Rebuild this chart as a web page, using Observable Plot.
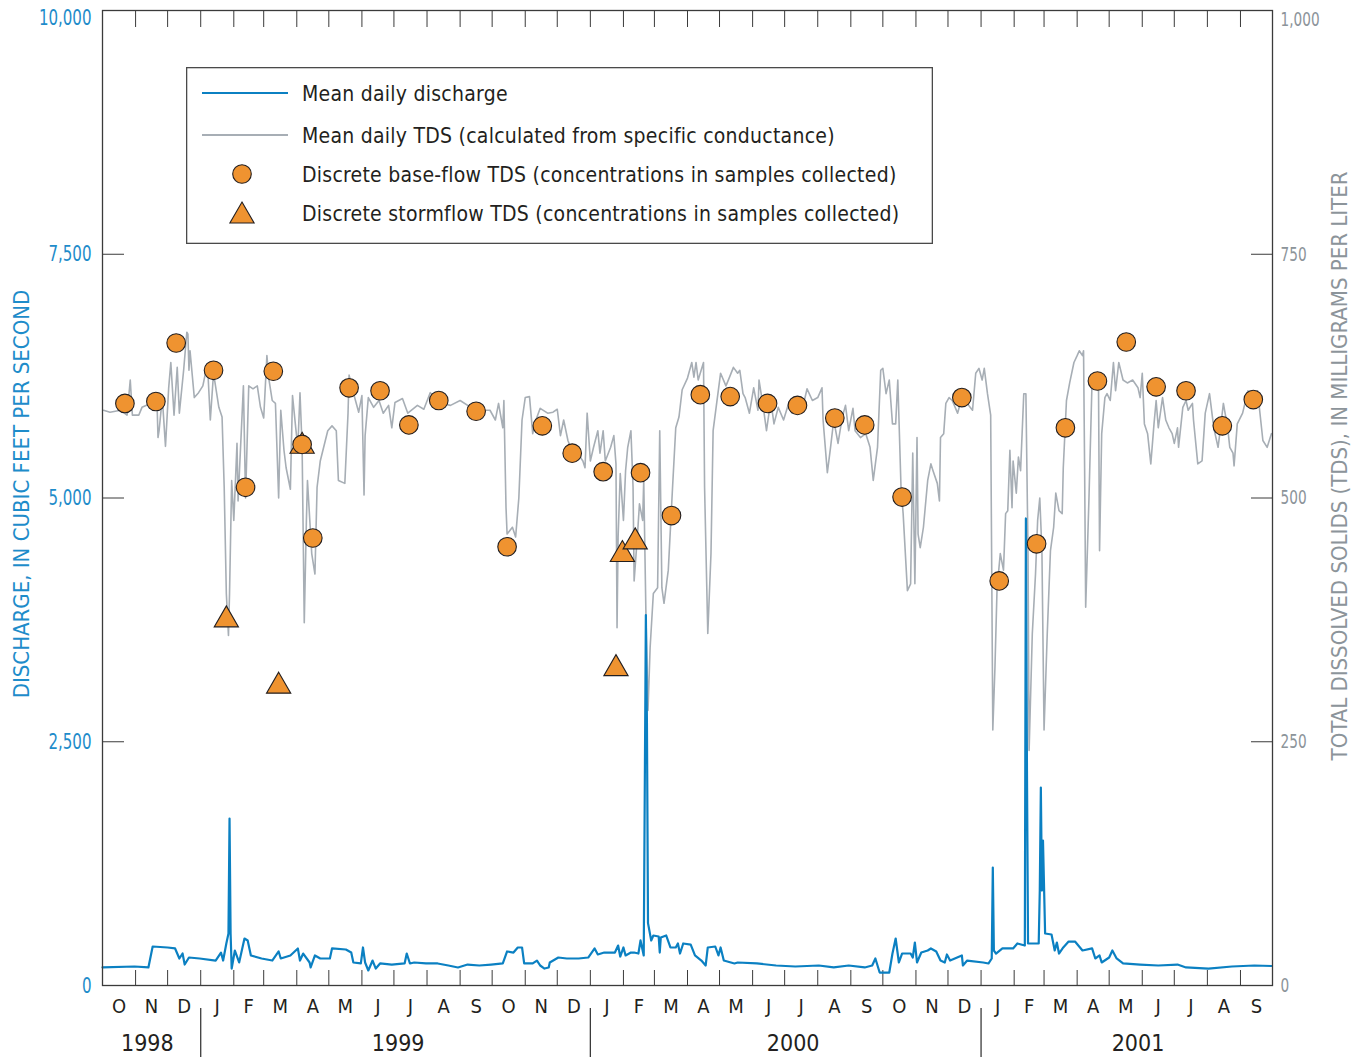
<!DOCTYPE html>
<html>
<head>
<meta charset="utf-8">
<title>Discharge and total dissolved solids, water years 1999–2001</title>
<script src="https://cdn.jsdelivr.net/npm/d3@7"></script>
<script src="https://cdn.jsdelivr.net/npm/@observablehq/plot@0.6"></script>
<style>
  html, body { margin: 0; padding: 0; background: #fff; }
  #figure { position: relative; width: 1364px; height: 1059px; overflow: hidden; }
  #figure svg { display: block; }
  #legend { position: absolute; left: 186px; top: 67px; }
</style>
</head>
<body>
<div id="figure"></div>
<script>
// ---- Record period and axis labels -------------------------------------
const recordStart = new Date(Date.UTC(1998, 9, 1));   // 1 Oct 1998, day 0 of the record
const recordEnd = new Date(Date.UTC(2001, 9, 1));     // 1 Oct 2001
const monthLetters = ["O", "N", "D", "J", "F", "M", "A", "M", "J", "J", "A", "S"];
const yearLabels = [
  {year: "1998", at: "1998-11-12"},
  {year: "1999", at: "1999-07-05"},
  {year: "2000", at: "2000-07-09"},
  {year: "2001", at: "2001-05-28"}
];
const yearBreaks = ["1999-01-01", "2000-01-01", "2001-01-01"];
const dischargeTicks = [0, 2500, 5000, 7500, 10000];  // ft3/s
const tdsTicks = [0, 250, 500, 750, 1000];            // mg/L

// ---- Mean daily discharge, ft3/s: [day of record, value] ---------------
const dailyDischarge = [
  [0,185],[30,195],[43,185],[47,400],[61,390],[68,380],[72,277],[75,328],[77,215],[81,287],
  [91,277],[106,256],[111,338],[113,256],[116,430],[118,533],[119,1713],[120,533],[121,174],[124,359],
  [128,236],[133,482],[136,462],[139,308],[149,277],[159,256],[165,349],[167,277],[176,308],[183,380],
  [185,256],[188,328],[194,236],[195,185],[199,308],[204,277],[213,277],[215,380],[228,369],[233,338],
  [235,236],[242,226],[244,390],[246,236],[249,154],[253,256],[256,174],[260,226],[271,215],[283,226],
  [285,328],[288,226],[292,236],[303,226],[314,226],[324,205],[333,185],[342,215],[353,205],[364,215],
  [375,226],[379,349],[385,338],[389,390],[393,390],[395,226],[403,226],[407,256],[410,205],[414,174],
  [418,185],[419,236],[427,287],[435,277],[446,277],[455,287],[461,380],[464,318],[470,338],[480,338],
  [483,410],[485,297],[488,390],[490,308],[495,338],[498,338],[502,328],[504,462],[507,308],[509,3800],
  [510,2700],[511,640],[514,462],[516,513],[521,503],[522,338],[523,492],[528,513],[532,390],[537,390],
  [539,431],[541,328],[544,431],[551,420],[555,308],[561,256],[565,205],[567,390],[574,400],[577,308],
  [579,390],[582,256],[592,226],[595,236],[613,226],[631,205],[649,195],[671,205],[685,185],[699,205],
  [714,185],[721,205],[724,277],[728,133],[737,133],[740,328],[743,482],[746,236],[749,328],[757,328],
  [759,287],[761,441],[763,236],[767,338],[773,359],[776,380],[781,349],[785,256],[789,236],[791,318],
  [794,256],[805,308],[806,205],[810,256],[825,236],[830,226],[833,277],[834,1210],[835,359],[837,328],
  [843,380],[853,380],[857,431],[864,410],[865,4790],[866,2200],[867,431],[877,431],[878,974],[879,2031],
  [880,974],[881,1487],[883,533],[889,523],[892,359],[894,441],[896,328],[900,390],[905,451],[911,451],
  [918,359],[927,380],[930,277],[934,308],[936,236],[943,287],[946,359],[950,277],[956,226],[972,215],
  [989,205],[1007,215],[1015,185],[1036,174],[1058,195],[1079,205],[1095,200]
];

// ---- Mean daily TDS from specific conductance, mg/L: [day of record, value]
const dailyTds = [
  [1,590],[7,588],[17,590],[23,585],[26,621],[28,585],[34,585],[37,593],[45,597],[51,600],
  [52,562],[53,569],[56,603],[59,553],[62,613],[64,639],[67,585],[70,634],[72,587],[76,631],
  [79,670],[80,668],[81,631],[82,651],[86,603],[90,608],[94,615],[97,631],[99,623],[101,580],
  [104,628],[109,593],[112,583],[114,511],[116,402],[118,359],[119,402],[121,518],[123,477],[126,556],
  [127,497],[132,615],[134,500],[137,615],[141,612],[145,615],[148,593],[151,582],[154,646],[156,621],
  [159,600],[162,597],[165,500],[167,590],[170,549],[172,531],[176,509],[178,605],[181,572],[183,552],
  [185,608],[187,552],[189,372],[191,477],[192,518],[196,443],[199,422],[201,511],[204,538],[211,569],
  [215,574],[219,569],[221,518],[227,515],[230,587],[231,626],[235,608],[240,588],[243,605],[245,503],
  [246,564],[249,603],[254,593],[259,600],[263,587],[268,595],[271,572],[274,598],[281,602],[286,587],
  [295,595],[301,591],[307,608],[317,597],[326,595],[335,600],[345,593],[354,590],[363,590],[368,580],
  [371,597],[375,572],[376,600],[378,490],[379,463],[384,470],[387,460],[390,500],[393,580],[396,603],
  [400,604],[403,566],[406,580],[410,592],[417,587],[422,588],[426,591],[429,564],[432,580],[436,559],
  [440,547],[445,546],[450,538],[452,531],[454,587],[457,538],[460,552],[464,569],[466,546],[469,569],
  [471,538],[476,552],[479,564],[481,535],[482,367],[483,460],[485,525],[488,477],[490,528],[492,552],
  [495,569],[497,511],[498,415],[501,460],[503,494],[506,477],[507,518],[509,385],[511,282],[513,347],
  [516,402],[520,408],[522,569],[524,408],[526,392],[530,426],[534,511],[537,572],[540,583],[543,611],
  [548,623],[552,639],[554,624],[556,639],[558,621],[563,639],[564,511],[567,361],[570,443],[572,569],
  [576,603],[579,628],[584,615],[587,623],[591,634],[595,628],[597,631],[600,607],[602,603],[606,587],
  [610,613],[614,590],[615,621],[619,593],[622,569],[626,600],[629,576],[633,593],[638,580],[643,598],
  [646,587],[651,600],[656,593],[660,612],[665,600],[670,603],[674,613],[675,580],[679,526],[682,552],
  [685,580],[689,556],[693,583],[696,595],[699,569],[703,592],[705,569],[710,562],[715,566],[719,552],
  [722,518],[726,552],[729,631],[731,633],[734,607],[737,621],[740,576],[743,576],[745,621],[748,511],
  [750,484],[754,405],[757,412],[759,546],[761,412],[763,562],[764,463],[766,449],[769,470],[773,518],
  [776,535],[778,528],[782,515],[784,497],[785,562],[788,566],[790,597],[793,603],[796,600],[801,587],
  [806,607],[810,597],[815,590],[818,628],[821,633],[824,621],[826,633],[829,607],[832,585],[834,262],
  [836,326],[838,408],[841,443],[844,426],[846,484],[848,487],[850,549],[852,490],[853,538],[856,505],
  [858,542],[860,528],[863,607],[865,607],[867,443],[868,241],[871,361],[874,422],[876,477],[878,500],
  [880,446],[882,262],[885,361],[888,446],[891,470],[893,505],[896,487],[899,484],[900,531],[903,600],
  [906,618],[910,639],[913,646],[915,651],[918,646],[919,651],[920,531],[921,388],[924,497],[927,621],
  [930,618],[933,618],[934,446],[936,566],[939,603],[941,607],[944,600],[947,639],[949,610],[952,639],
  [956,621],[960,618],[965,621],[970,613],[972,603],[974,628],[976,576],[979,566],[982,535],[985,576],
  [987,600],[989,572],[993,603],[996,580],[999,572],[1002,566],[1004,556],[1007,572],[1008,552],[1012,593],
  [1015,600],[1017,590],[1021,597],[1022,580],[1026,535],[1030,538],[1033,587],[1037,607],[1041,572],[1045,552],
  [1047,569],[1050,597],[1054,572],[1056,552],[1059,546],[1060,533],[1063,576],[1068,587],[1073,610],[1077,603],
  [1082,610],[1087,559],[1091,552],[1095,566]
];

// ---- Discrete samples, TDS in mg/L -------------------------------------
const baseflowTds = [
  ["1998-10-22",597],["1998-11-20",599],["1998-12-09",659],["1999-01-13",631],["1999-02-12",511],
  ["1999-03-10",630],["1999-04-06",555],["1999-04-16",459],["1999-05-20",613],["1999-06-18",610],
  ["1999-07-15",575],["1999-08-12",600],["1999-09-16",589],["1999-10-15",450],["1999-11-17",574],
  ["1999-12-15",546],["2000-01-13",527],["2000-02-17",526],["2000-03-17",482],["2000-04-13",606],
  ["2000-05-11",604],["2000-06-15",597],["2000-07-13",595],["2000-08-17",582],["2000-09-14",575],
  ["2000-10-19",501],["2000-12-14",603],["2001-01-18",415],["2001-02-22",453],["2001-03-21",572],
  ["2001-04-20",620],["2001-05-17",660],["2001-06-14",614],["2001-07-12",610],["2001-08-15",574],
  ["2001-09-13",601]
];
const stormflowTds = [
  ["1999-01-25",375],["1999-03-15",307],["1999-04-06",553],
  ["2000-01-25",325],["2000-01-31",442],["2000-02-12",455]
];

// ---- Styling ------------------------------------------------------------
const FONT = "'DejaVu Sans Condensed', 'DejaVu Sans', sans-serif";
const INK = "#231f20";
const FRAME = "#3b3b3b";
const DISCHARGE_BLUE = "#0b80c2";
const AXIS_BLUE = "#1e8cca";
const TDS_GRAY = "#a7aeb5";
const AXIS_GRAY = "#8c949a";
const SAMPLE_ORANGE = "#ef9330";
const TDS_FACTOR = 10;   // right axis: 1 mg/L sits where 10 ft3/s sits on the left axis

const onDay = (day) => d3.utcDay.offset(recordStart, day);
const monthStarts = d3.utcMonth.range(recordStart, recordEnd);
const months = monthStarts.map((m, i) => ({
  mid: new Date((+m + +d3.utcMonth.offset(m, 1)) / 2),
  letter: monthLetters[i % 12]
}));
const topTick = [dischargeTicks[dischargeTicks.length - 1]];
const innerTicks = dischargeTicks.slice(0, -1);
const tdsTickPositions = tdsTicks.map((v) => v * TDS_FACTOR);
const tdsTopTick = tdsTickPositions.slice(-1);
const tdsInnerTicks = tdsTickPositions.slice(0, -1);
const tdsFormat = (v) => d3.format(",")(v / TDS_FACTOR);

const chart = Plot.plot({
  width: 1364,
  height: 1059,
  marginLeft: 102,
  marginRight: 92,
  marginTop: 10,
  marginBottom: 74,
  style: {fontFamily: FONT, color: INK, background: "#fff", overflow: "visible"},
  x: {type: "utc", domain: [recordStart, recordEnd]},
  y: {type: "linear", domain: [0, 10000]},
  marks: [
    // inward tick marks on all four sides
    Plot.axisX({anchor: "top", ticks: monthStarts, tickSize: -16, fill: "none", label: null, stroke: FRAME}),
    Plot.axisX({anchor: "bottom", ticks: monthStarts, tickSize: -15, fill: "none", label: null, stroke: FRAME}),
    Plot.axisY({anchor: "left", ticks: dischargeTicks, tickSize: -22, fill: "none", label: null, stroke: FRAME}),
    Plot.axisY({anchor: "right", ticks: tdsTickPositions, tickSize: -22, fill: "none", label: null, stroke: FRAME}),
    // tick labels (the top ones sit just inside the top edge)
    Plot.axisY({anchor: "left", ticks: innerTicks, tickSize: 0, tickPadding: 11,
      tickFormat: d3.format(","), fill: AXIS_BLUE, fontSize: 22, label: null}),
    Plot.axisY({anchor: "left", ticks: topTick, tickSize: 0, tickPadding: 11, dy: 7,
      tickFormat: d3.format(","), fill: AXIS_BLUE, fontSize: 22, label: null}),
    Plot.axisY({anchor: "right", ticks: tdsInnerTicks, tickSize: 0, tickPadding: 8,
      tickFormat: tdsFormat, fill: AXIS_GRAY, fontSize: 20, label: null}),
    Plot.axisY({anchor: "right", ticks: tdsTopTick, tickSize: 0, tickPadding: 8, dy: 9,
      tickFormat: tdsFormat, fill: AXIS_GRAY, fontSize: 20, label: null}),
    // daily series
    Plot.line(dailyTds, {x: (d) => onDay(d[0]), y: (d) => d[1] * TDS_FACTOR,
      stroke: TDS_GRAY, strokeWidth: 1.6, strokeLinejoin: "round"}),
    Plot.line(dailyDischarge, {x: (d) => onDay(d[0]), y: (d) => d[1],
      stroke: DISCHARGE_BLUE, strokeWidth: 2.2, strokeLinejoin: "round"}),
    // discrete samples
    Plot.dot(stormflowTds, {x: (d) => new Date(d[0]), y: (d) => d[1] * TDS_FACTOR, symbol: "triangle",
      r: 9, fill: SAMPLE_ORANGE, fillOpacity: 1, stroke: INK, strokeWidth: 1.1}),
    Plot.dot(baseflowTds, {x: (d) => new Date(d[0]), y: (d) => d[1] * TDS_FACTOR, symbol: "circle",
      r: 9.3, fill: SAMPLE_ORANGE, fillOpacity: 1, stroke: INK, strokeWidth: 1.1}),
    Plot.frame({stroke: FRAME, strokeWidth: 1.3}),
    // month and year labels below the frame
    Plot.text(months, {x: "mid", text: "letter", frameAnchor: "bottom", lineAnchor: "middle", dy: 21,
      fontSize: 20, fill: INK, ariaLabel: "month label"}),
    Plot.ruleX(yearBreaks, {x: (d) => new Date(d), insetTop: 998, insetBottom: -72, stroke: FRAME, strokeWidth: 1.3}),
    Plot.text(yearLabels, {x: (d) => new Date(d.at), text: "year", frameAnchor: "bottom", lineAnchor: "middle", dy: 58,
      fontSize: 23, fill: INK, ariaLabel: "year label"}),
    // axis titles
    Plot.text(["DISCHARGE, IN CUBIC FEET PER SECOND"], {text: (d) => d, frameAnchor: "left", textAnchor: "middle",
      lineAnchor: "middle", rotate: -90, dx: -81, dy: -4, fontSize: 22, fill: AXIS_BLUE, ariaLabel: "axis title"}),
    Plot.text(["TOTAL DISSOLVED SOLIDS (TDS), IN MILLIGRAMS PER LITER"], {text: (d) => d, frameAnchor: "right",
      textAnchor: "middle", lineAnchor: "middle", rotate: -90, dx: 67, dy: -32, fontSize: 22, fill: AXIS_GRAY,
      ariaLabel: "axis title"})
  ]
});

const figure = document.getElementById("figure");
figure.appendChild(chart);

// Narrow the numerals and month letters to a condensed face of the same height.
function condense(selection, factor) {
  selection.each(function () {
    const w = this.getComputedTextLength();
    if (w > 0) {
      this.setAttribute("textLength", (w * factor).toFixed(1));
      this.setAttribute("lengthAdjust", "spacingAndGlyphs");
    }
  });
}
const svg = d3.select(chart);
condense(svg.selectAll('g[aria-label="y-axis tick label"] text'), 0.76);
condense(svg.selectAll('g[aria-label="month label"] text'), 0.86);
condense(svg.selectAll('g[aria-label="year label"] text'), 0.8);
svg.selectAll('g[aria-label="axis title"] text').style("letter-spacing", "1.5px");

// ---- Legend ---------------------------------------------------------------
const legendItems = [
  {kind: "line", color: DISCHARGE_BLUE, width: 2.2, label: "Mean daily discharge"},
  {kind: "line", color: TDS_GRAY, width: 2, label: "Mean daily TDS (calculated from specific conductance)"},
  {kind: "circle", label: "Discrete base-flow TDS (concentrations in samples collected)"},
  {kind: "triangle", label: "Discrete stormflow TDS (concentrations in samples collected)"}
];
const legendRows = [26, 68, 107, 146];
const legend = d3.create("svg")
  .attr("id", "legend")
  .attr("width", 747)
  .attr("height", 177)
  .style("font-family", FONT);
legend.append("rect")
  .attr("x", 0.65).attr("y", 0.65).attr("width", 745.7).attr("height", 175.7)
  .attr("fill", "#fff").attr("stroke", "#4a4a4a").attr("stroke-width", 1.3);
const rows = legend.selectAll("g.row").data(legendItems).join("g")
  .attr("class", "row")
  .attr("transform", (d, i) => `translate(0,${legendRows[i]})`);
rows.filter((d) => d.kind === "line").append("line")
  .attr("x1", 16).attr("x2", 102).attr("stroke", (d) => d.color).attr("stroke-width", (d) => d.width);
rows.filter((d) => d.kind === "circle").append("circle")
  .attr("cx", 56).attr("r", 9.3).attr("fill", SAMPLE_ORANGE).attr("stroke", INK).attr("stroke-width", 1.1);
rows.filter((d) => d.kind === "triangle").append("path")
  .attr("transform", "translate(56,3)")
  .attr("d", d3.symbol(d3.symbolTriangle, Math.PI * 81)())
  .attr("fill", SAMPLE_ORANGE).attr("stroke", INK).attr("stroke-width", 1.1);
rows.append("text")
  .attr("x", 116)
  .attr("dy", "0.38em")
  .attr("font-size", 21)
  .attr("fill", INK)
  .style("letter-spacing", "0.25px")
  .text((d) => d.label);
figure.appendChild(legend.node());
</script>
</body>
</html>
